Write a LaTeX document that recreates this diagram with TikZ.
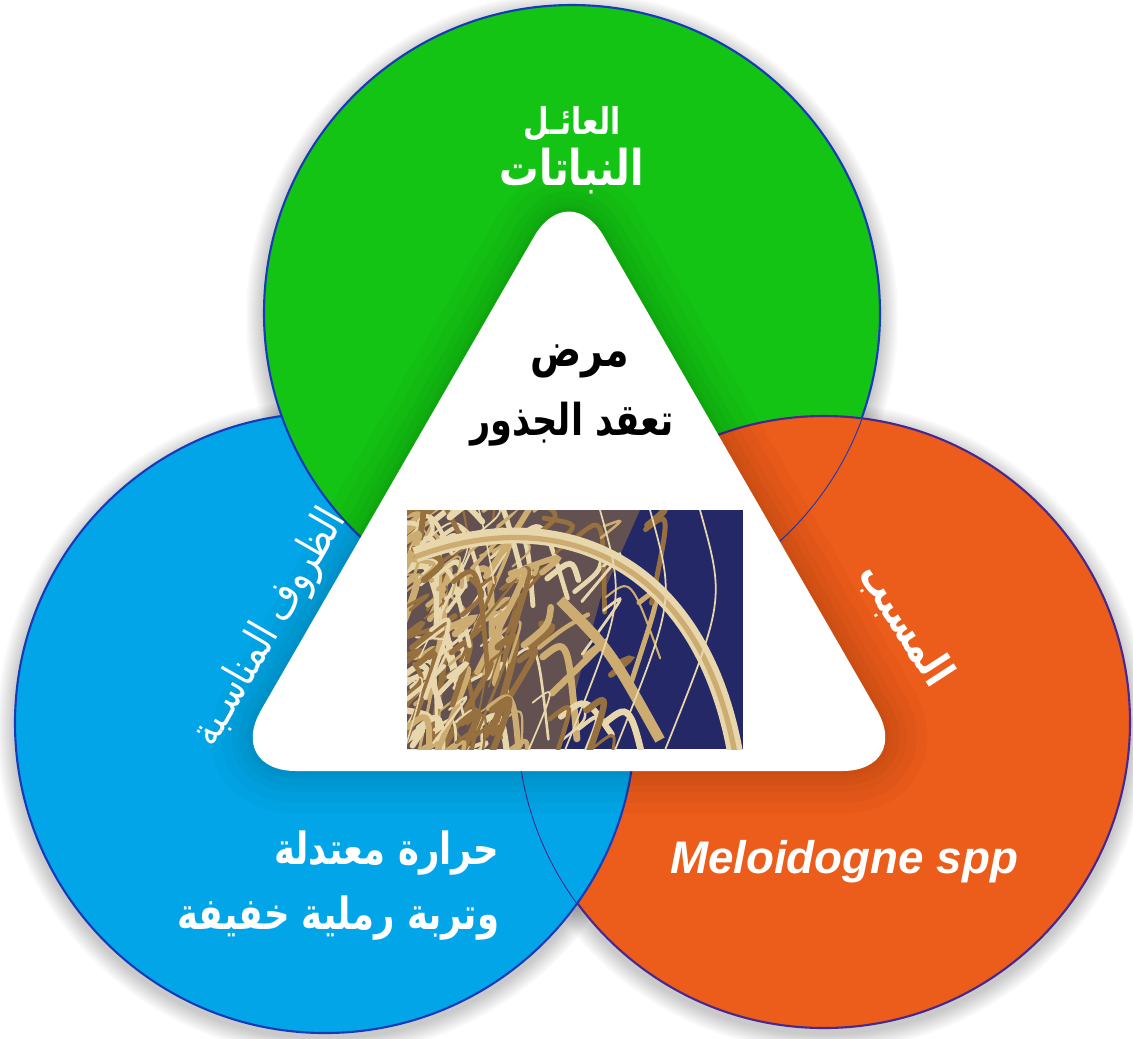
\documentclass[tikz,border=0pt]{standalone}
\usepackage{fontspec}
\setmainfont{Liberation Sans}
\newfontfamily\arabicfont[Script=Arabic,FakeStretch=0.8]{DejaVu Sans}
\TeXXeTstate=1
\usetikzlibrary{positioning}
\definecolor{hostgreen}{RGB}{20,196,20}
\definecolor{condblue}{RGB}{2,166,232}
\definecolor{causeorange}{RGB}{236,92,26}
\definecolor{edgeblue}{RGB}{22,58,185}
\definecolor{edgepurple}{RGB}{72,40,142}
\definecolor{photobg}{RGB}{36,40,102}
\definecolor{root0}{RGB}{204,172,112}
\definecolor{root1}{RGB}{232,214,172}
\definecolor{root2}{RGB}{150,112,62}

\begin{document}
\begin{tikzpicture}[x=0.01cm,y=-0.01cm,
  ring/.style={line width=0.6pt},
  glow/.style={black,opacity=0.022},
  wtxt/.style={text=white,inner sep=0pt,font=\arabicfont\bfseries\fontsize{#1}{#1}\selectfont},
  ktxt/.style={text=black,inner sep=0pt,font=\arabicfont\bfseries\fontsize{#1}{#1}\selectfont}
]
\useasboundingbox (0,0) rectangle (1133,1038);
\fill[white] (0,0) rectangle (1133,1038);

\coordinate (host) at (572,313);
\coordinate (cond) at (325,723);
\coordinate (cause) at (824,722);
\coordinate (apex) at (569,176);
\coordinate (bl) at (226,771);
\coordinate (br) at (912,771);
\coordinate (bm) at (569,771);

% soft shadows round the circles
\foreach \c/\r in {host/308,cond/310,cause/306}
  \foreach \d in {2,4,...,18}
    \fill[glow] ([yshift=-0.05cm]\c) circle ({\r+\d});

% the three circles (green over blue, blue over orange, orange over green)
\filldraw[ring,fill=condblue,draw=edgeblue] (cond) circle (310);
\filldraw[ring,fill=causeorange,draw=edgepurple] (cause) circle (306);
\filldraw[ring,fill=hostgreen,draw=edgeblue] (host) circle (308);
\begin{scope}
  \clip (host) circle (308);
  \filldraw[ring,fill=causeorange,draw=edgepurple] (cause) circle (306);
\end{scope}
\begin{scope}
  \clip (cause) circle (306);
  \filldraw[ring,fill=condblue,draw=edgeblue] (cond) circle (310);
\end{scope}

% triangle
\foreach \w in {24pt,18pt,12pt,8pt,4pt,2pt}
  \draw[black,opacity=0.024,line width=\w,rounded corners=0.7cm,yshift=-0.04cm]
    (bm) -- (br) -- (apex) -- (bl) -- cycle;
\fill[white,rounded corners=0.7cm] (bm) -- (br) -- (apex) -- (bl) -- cycle;

% photo of the roots
\begin{scope}
  \clip (407,510) rectangle (743,749);
  \fill[photobg] (407,510) rectangle (743,749);
  \fill[root2!55!photobg] (407,510) -- (640,510) -- (600,600) -- (560,749) -- (407,749) -- cycle;
  \pgfmathsetseed{11}
  \foreach \i in {1,...,170}{
    \pgfmathsetmacro\xa{400+280*rnd*rnd}
    \pgfmathsetmacro\ya{500+260*rnd}
    \pgfmathsetmacro\xb{\xa+90*rnd-35}
    \pgfmathsetmacro\yb{\ya+150*rnd-40}
    \pgfmathsetmacro\lw{0.4+1.6*rnd}
    \pgfmathtruncatemacro\k{mod(\i,3)}
    \draw[draw=root\k,line width=\lw pt,line cap=round]
      (\xa,\ya) .. controls ({\xa+25},{\ya-20}) .. (\xb,\yb);
  }
  \draw[root1,line width=4.5pt] (415,555) .. controls (560,500) and (700,560) .. (735,752);
  \draw[root0,line width=1.5pt] (415,557) .. controls (560,502) and (700,562) .. (735,754);
  \draw[root0,line width=3pt] (560,600) .. controls (610,650) .. (660,740);
  \foreach \x in {600,650,700}
    \draw[root1,line width=0.5pt] (\x,510) .. controls ({\x+25},600) .. ({\x-35},750);
\end{scope}

% texts
\node[wtxt=10.5] (hosttop) at (572,124) {\beginR العائـل\endR};
\node[wtxt=14] (hostname) at (572,171) {\beginR النباتات\endR};
\node[ktxt=13.5] (disease) at (580,361) {\beginR مرض\endR};
\node[ktxt=12.5] (diseasename) at (572,424) {\beginR تعقد الجذور\endR};
\node[text=white,inner sep=0pt,font=\arabicfont\fontsize{12.5}{12.5}\selectfont,rotate=60]
  (condtitle) at (270,628) {\beginR الظروف المناسـبة\endR};
\node[text=white,inner sep=0pt,align=right,anchor=east,font=\arabicfont\bfseries\fontsize{12.6}{18.5}\selectfont]
  (condtext) at (500,886) {\beginR حرارة معتدلة\endR\\\beginR وتربة رملية خفيفة\endR};
\node[wtxt=12.5,rotate=-57] (causetitle) at (905,625) {\beginR المسبب\endR};
\node[text=white,inner sep=0pt,font=\bfseries\itshape\fontsize{13}{13}\selectfont]
  (causename) at (844,862) {Meloidogne spp};
\end{tikzpicture}
\end{document}
